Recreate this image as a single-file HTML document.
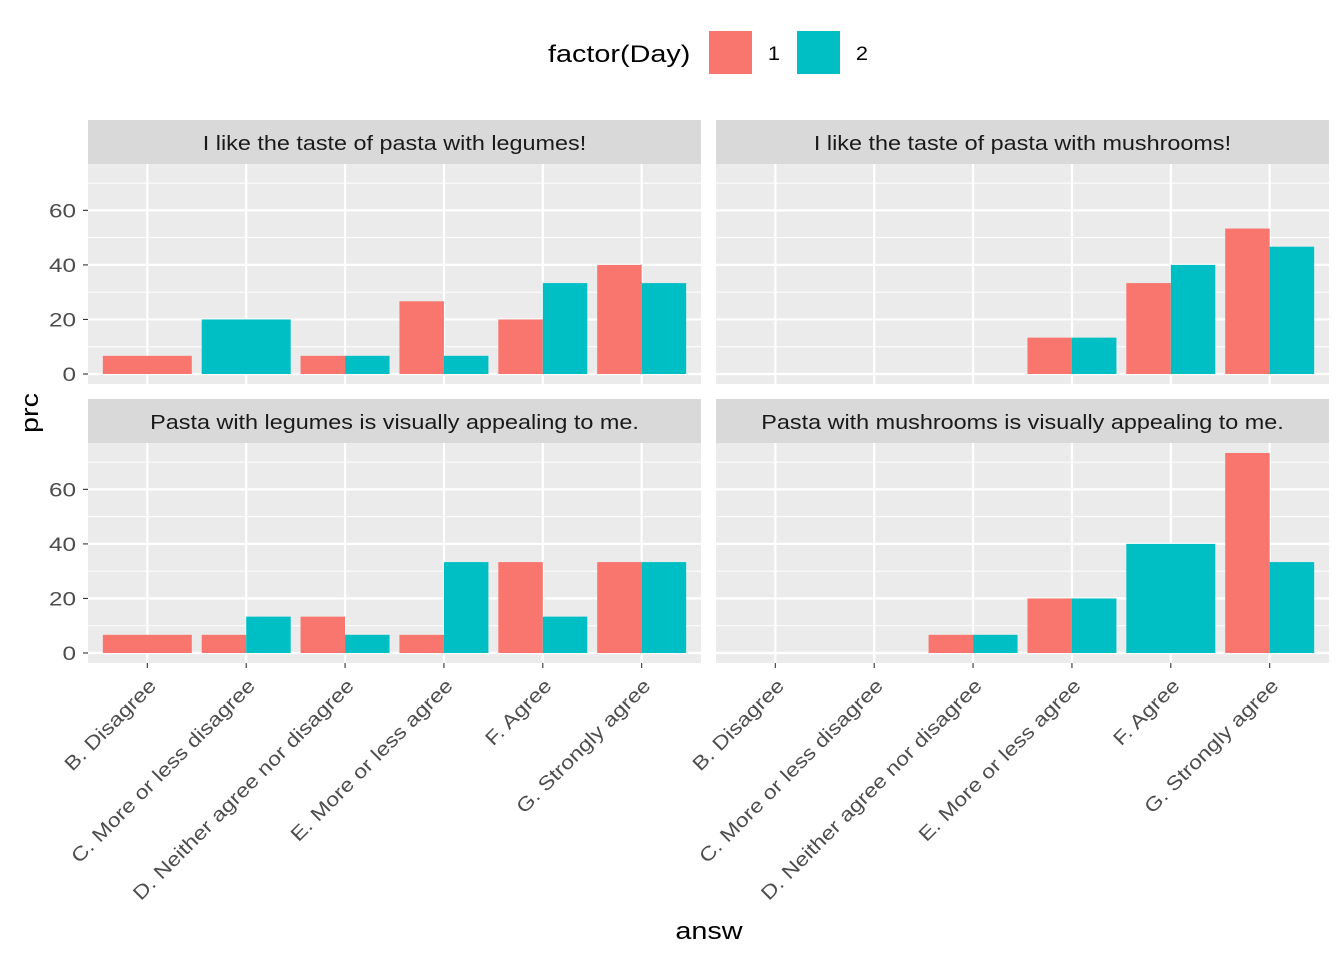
<!DOCTYPE html>
<html><head><meta charset="utf-8"><style>body{margin:0;background:#fff}svg{display:block;font-family:"Liberation Sans",Arial,sans-serif}</style></head>
<body>
<svg id="chart" width="1344" height="960"></svg>
<script>
const categories=["B. Disagree","C. More or less disagree","D. Neither agree nor disagree","E. More or less agree","F. Agree","G. Strongly agree"];
const panelTitles=["I like the taste of pasta with legumes!","I like the taste of pasta with mushrooms!","Pasta with legumes is visually appealing to me.","Pasta with mushrooms is visually appealing to me."];
// null = group absent
const day1_p1=[6.67,null,6.67,26.67,20,40];
const day2_p1=[null,20,6.67,6.67,33.33,33.33];
const day1_p2=[null,null,null,13.33,33.33,53.33];
const day2_p2=[null,null,null,13.33,40,46.67];
const day1_p3=[6.67,6.67,13.33,6.67,33.33,33.33];
const day2_p3=[null,13.33,6.67,33.33,13.33,33.33];
const day1_p4=[null,null,6.67,20,null,73.33];
const day2_p4=[null,null,6.67,20,40,33.33];
const yTicks=[0,20,40,60];
const legendLabels=["1","2"];
const colors=["#F8766D","#00BFC4"];
const d1=[day1_p1,day1_p2,day1_p3,day1_p4], d2=[day2_p1,day2_p2,day2_p3,day2_p4];
const svg=document.getElementById('chart');const NS="http://www.w3.org/2000/svg";
function mk(t,a,p,txt){const e=document.createElementNS(NS,t);for(const k in a)e.setAttribute(k,a[k]);if(txt!==undefined)e.textContent=txt;(p||svg).appendChild(e);return e;}
function tx(x,y,txt,size,sx,anchor,fill,rot,p){
  return mk('text',{x:0,y:0,'text-anchor':anchor,'font-size':size,fill:fill,transform:`translate(${x} ${y}) rotate(${rot||0}) scale(${sx} 1)`},p,txt);
}
const panels=[{x:88,y:164},{x:716,y:164},{x:88,y:443},{x:716,y:443}];
const PW=613,PH=220,ymin=-3.67,ymax=77;
const xmin=0.4,xmax=categories.length+0.6;
panels.forEach((P,i)=>{
  const g=mk('g',{});
  
  
  const Y=v=>P.y+PH-(v-ymin)/(ymax-ymin)*PH;
  const step=PW/(xmax-xmin);
  const X=j=>P.x+(j+1-xmin)*step;
  mk('rect',{x:P.x,y:P.y,width:PW,height:PH,fill:'#EBEBEB'},g);
  const strip=mk('rect',{x:P.x,y:P.y-44,width:PW,height:44,fill:'#D9D9D9'},g);
  
  
  tx(P.x+PW/2,P.y-14,panelTitles[i],20,1.17,'middle','#1A1A1A',0,g);
  for(let v=10;v<ymax;v+=20) mk('line',{x1:P.x,x2:P.x+PW,y1:Y(v),y2:Y(v),stroke:'#fff','stroke-width':1},g);
  yTicks.forEach(v=>mk('line',{x1:P.x,x2:P.x+PW,y1:Y(v),y2:Y(v),stroke:'#fff','stroke-width':2.2},g));
  categories.forEach((c,j)=>mk('line',{x1:X(j),x2:X(j),y1:P.y,y2:P.y+PH,stroke:'#fff','stroke-width':2.2},g));
  const bw=step*0.9;
  categories.forEach((c,j)=>{
    const a=d1[i][j],b=d2[i][j];
    const items=[];
    if(a!=null&&b!=null){items.push([a,0,X(j)-bw/2,bw/2]);items.push([b,1,X(j),bw/2]);}
    else if(a!=null)items.push([a,0,X(j)-bw/2,bw]);
    else if(b!=null)items.push([b,1,X(j)-bw/2,bw]);
    items.forEach(it=>{
      const r=mk('rect',{x:it[2],y:Y(it[0]),width:it[3],height:Y(0)-Y(it[0]),fill:colors[it[1]]},g);
      
      
    });
  });
  if(P.x<400){
    yTicks.forEach(v=>{mk('line',{x1:P.x-5,x2:P.x,y1:Y(v),y2:Y(v),stroke:'#333','stroke-width':1.1});
      tx(P.x-12,Y(v)+7,String(v),19,1.28,'end','#4D4D4D',0);});
  }
  if(P.y>300){
    categories.forEach((c,j)=>{mk('line',{x1:X(j),x2:X(j),y1:P.y+PH,y2:P.y+PH+5,stroke:'#333','stroke-width':1.1});
      const t=tx(X(j)+10,P.y+PH+24,c,19.5,1.18,'end','#4D4D4D',-45);
      
      });
  }
});
const yt=tx(38,413,'prc',24,1.2,'middle','#000',-90);

const xt=tx(709,939,'answ',24,1.2,'middle','#000',0);

const lt=tx(548,62,'factor(Day)',24,1.2,'start','#000',0);

legendLabels.forEach((l,k)=>{
  const kx=709+k*88;
  const r=mk('rect',{x:kx,y:31,width:43,height:43,fill:colors[k]});
  
  tx(kx+65,60,l,19,1.15,'middle','#000',0);
});
</script>
</body></html>
